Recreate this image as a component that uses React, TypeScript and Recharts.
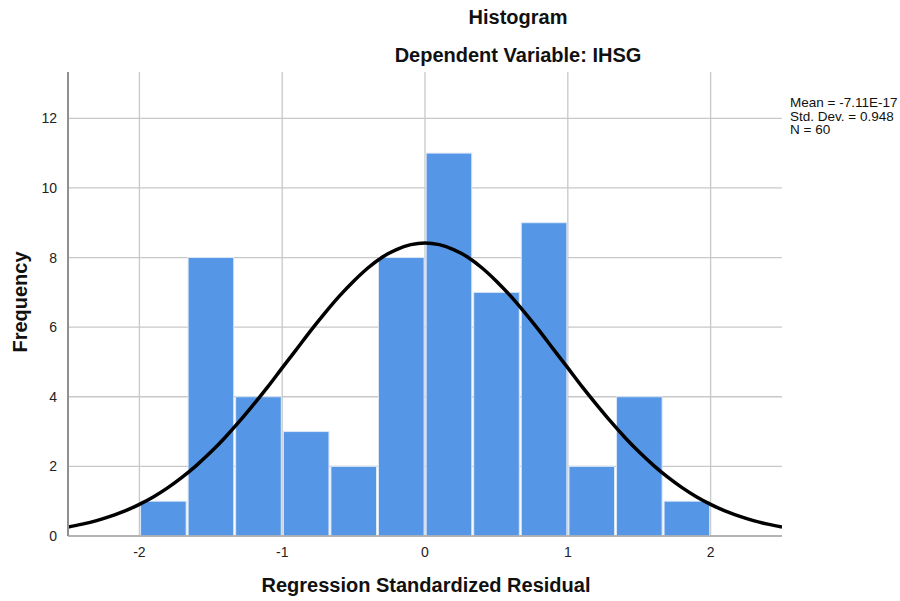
import React from "react";
import {
  ComposedChart,
  Bar,
  Line,
  XAxis,
  YAxis,
  CartesianGrid,
} from "recharts";

// histogram bins (centre of each bin) and counts
const binCenters = [-1.833, -1.5, -1.167, -0.833, -0.5, -0.167, 0.167, 0.5, 0.833, 1.167, 1.5, 1.833];
const binCounts = [1, 8, 4, 3, 2, 8, 11, 7, 9, 2, 4, 1];
const binWidth = 0.3333;

// normal curve
const curveX = [
  -2.5, -2.4, -2.3, -2.2, -2.1, -2.0, -1.9, -1.8, -1.7, -1.6, -1.5, -1.4, -1.3, -1.2, -1.1, -1.0,
  -0.9, -0.8, -0.7, -0.6, -0.5, -0.4, -0.3, -0.2, -0.1, 0, 0.1, 0.2, 0.3, 0.4, 0.5, 0.6, 0.7, 0.8,
  0.9, 1.0, 1.1, 1.2, 1.3, 1.4, 1.5, 1.6, 1.7, 1.8, 1.9, 2.0, 2.1, 2.2, 2.3, 2.4, 2.5,
];
const curveY = [
  0.26, 0.34, 0.44, 0.57, 0.72, 0.91, 1.13, 1.39, 1.69, 2.03, 2.41, 2.83, 3.29, 3.78, 4.29, 4.83,
  5.36, 5.9, 6.41, 6.89, 7.32, 7.7, 8.01, 8.23, 8.37, 8.42, 8.37, 8.23, 8.01, 7.7, 7.32, 6.89, 6.41, 5.9,
  5.36, 4.83, 4.29, 3.78, 3.29, 2.83, 2.41, 2.03, 1.69, 1.39, 1.13, 0.91, 0.72, 0.57, 0.44, 0.34, 0.26,
];

const xTicks = [-2, -1, 0, 1, 2];
const yTicks = [0, 2, 4, 6, 8, 10, 12];
const statsLines = ["Mean = -7.11E-17", "Std. Dev. = 0.948", "N = 60"];

const data = [
  ...binCenters.map((x, i) => ({ x, freq: binCounts[i] })),
  ...curveX.map((x, i) => ({ x, curve: curveY[i] })),
].sort((a, b) => a.x - b.x);

const font = "Arial, 'Liberation Sans', sans-serif";

// plot geometry: x domain [-2.5, 2.5] spans 68..782 px
const plotLeft = 38 + 30;
const plotTop = 72;
const plotW = 900 - 38 - 30 - 118;
const plotH = 601 - 72 - 35 - 30;
const binPx = (binWidth / 5) * plotW;

// bars are drawn one bin wide, centred on the bar's x value
const HistBar = (props: any) => {
  const { x, y, width, height } = props;
  if (!height || height <= 0) return null;
  const cx = x + width / 2;
  return (
    <rect
      x={cx - binPx / 2 + 1}
      y={y}
      width={binPx - 2}
      height={height}
      fill="#5596e6"
      stroke="#dbe7f7"
      strokeWidth={1}
    />
  );
};

// grid only at the ticks (no lines on the plot's edges)
const vGrid = (args: any) => {
  const scale = args?.xAxis?.scale;
  if (typeof scale === "function") return xTicks.map((t) => scale(t));
  return xTicks.map((t) => plotLeft + ((t + 2.5) / 5) * plotW);
};
const hGrid = (args: any) => {
  const scale = args?.yAxis?.scale;
  if (typeof scale === "function") return yTicks.map((t) => scale(t));
  return yTicks.map((t) => plotTop + plotH - (t / 13.33) * plotH);
};

const titleStyle: React.CSSProperties = {
  position: "absolute",
  textAlign: "center",
  fontSize: 20,
  fontWeight: "bold",
  color: "#111",
  lineHeight: "23px",
  whiteSpace: "nowrap",
};

export default function App() {
  return (
    <div style={{ position: "absolute", left: 0, top: 0, width: 900, height: 601, background: "#fff", fontFamily: font }}>
      <ComposedChart
        width={900}
        height={601}
        data={data}
        margin={{ top: 72, right: 118, bottom: 35, left: 38 }}
      >
        <CartesianGrid
          stroke="#c8c8c8"
          strokeWidth={1.3}
          verticalCoordinatesGenerator={vGrid}
          horizontalCoordinatesGenerator={hGrid}
        />
        <XAxis
          dataKey="x"
          type="number"
          domain={[-2.5, 2.5]}
          ticks={xTicks}
          allowDataOverflow
          height={30}
          tick={{ fill: "#222", fontSize: 14, fontFamily: font }}
          tickLine={false}
          axisLine={{ stroke: "#a8a8a8", strokeWidth: 1.5 }}
          tickMargin={5}
        />
        <YAxis
          type="number"
          domain={[0, 13.33]}
          ticks={yTicks}
          allowDataOverflow
          width={30}
          tick={{ fill: "#222", fontSize: 14, fontFamily: font }}
          tickLine={false}
          axisLine={{ stroke: "#909090", strokeWidth: 2 }}
          tickMargin={5}
        />
        <Bar dataKey="freq" fill="#5596e6" shape={HistBar} isAnimationActive={false} />
        <Line
          dataKey="curve"
          type="monotone"
          stroke="#000"
          strokeWidth={3.5}
          dot={false}
          connectNulls
          isAnimationActive={false}
        />
      </ComposedChart>

      <div style={{ ...titleStyle, left: 0, width: 1036, top: 6 }}>Histogram</div>
      <div style={{ ...titleStyle, left: 0, width: 1036, top: 44 }}>Dependent Variable: IHSG</div>
      <div style={{ ...titleStyle, left: 0, width: 852, top: 574 }}>Regression Standardized Residual</div>
      <div
        style={{
          ...titleStyle,
          left: 20,
          top: 302,
          transform: "translate(-50%, -50%) rotate(-90deg)",
        }}
      >
        Frequency
      </div>
      <div style={{ position: "absolute", left: 790, top: 96, fontSize: 13.5, lineHeight: "13.5px", color: "#111" }}>
        {statsLines.map((s) => (
          <div key={s}>{s}</div>
        ))}
      </div>
    </div>
  );
}
